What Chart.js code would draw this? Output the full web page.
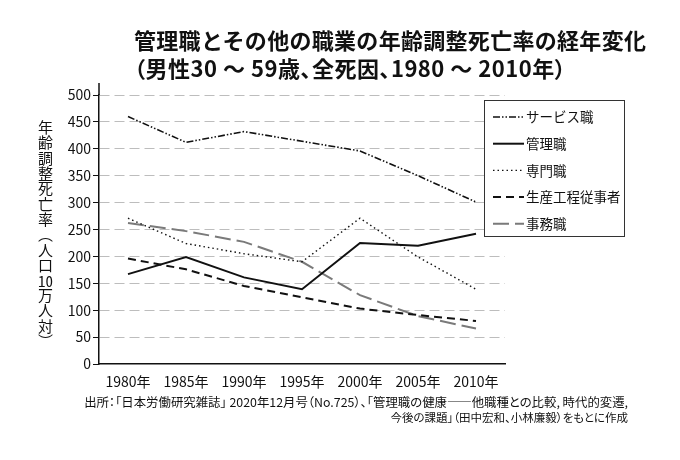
<!DOCTYPE html>
<html lang="ja">
<head>
<meta charset="utf-8">
<script src="https://cdn.jsdelivr.net/npm/chart.js@4.4.0/dist/chart.umd.min.js"></script>
<style>
  html, body { margin: 0; padding: 0; background: #fff; }
  #wrap { position: relative; width: 680px; height: 460px; font-family: "Noto Sans CJK JP", sans-serif; color: #111; }
  #chart { position: absolute; left: 0; top: 0; }
  #title { position: absolute; left: 134px; top: 25px; font-size: 22px; font-weight: 700; line-height: 28px; white-space: nowrap; letter-spacing: 0.3px; }
  #title .l2 { font-feature-settings: "palt"; letter-spacing: 0.5px; }
  #ylabel { position: absolute; left: 37px; top: 120px; writing-mode: vertical-rl; font-size: 15px; line-height: 16px; letter-spacing: 0.3px; }
  #ylabel .tcy { text-combine-upright: all; }
  #source { position: absolute; right: 52px; top: 395px; font-size: 11.5px; line-height: 15px; text-align: right; white-space: nowrap; font-feature-settings: "palt"; }
  #source .l1 { font-size: 12.4px; }
</style>
</head>
<body>
<div id="wrap">
  <canvas id="chart" width="680" height="460"></canvas>
  <div id="title">管理職とその他の職業の年齢調整死亡率の経年変化<br><span class="l2">（男性30 ～ 59歳、全死因、1980 ～ 2010年）</span></div>
  <div id="ylabel">年齢調整死亡率（人口<span class="tcy">10</span>万人対）</div>
  <div id="source"><span class="l1">出所：「日本労働研究雑誌」 2020年12月号（No.725）、「管理職の健康――他職種との比較, 時代的変遷,</span><br>今後の課題」（田中宏和、小林廉毅）をもとに作成</div>
</div>
<script>
// データ
const years = ['1980年', '1985年', '1990年', '1995年', '2000年', '2005年', '2010年'];
const serviceValues = [460, 412, 432, 414, 396, 350, 301];      // サービス職
const managerValues = [167, 199, 161, 139, 225, 220, 242];      // 管理職
const professionalValues = [271, 224, 205, 190, 271, 199, 139]; // 専門職
const productionValues = [196, 176, 145, 124, 103, 91, 80];     // 生産工程従事者
const clericalValues = [262, 247, 227, 190, 128, 89, 66];       // 事務職
const yMin = 0, yMax = 500, yStep = 50;

const fontFamily = '"Noto Sans CJK JP", sans-serif';

// 凡例（枠付き、グラフ右上）
const boxLegend = {
  id: 'boxLegend',
  afterDraw(chart) {
    const ctx = chart.ctx;
    const x = 484, y = 100, w = 140, h = 136;
    ctx.save();
    ctx.fillStyle = '#fff';
    ctx.fillRect(x, y, w, h);
    ctx.strokeStyle = '#333';
    ctx.lineWidth = 1;
    ctx.strokeRect(x + 0.5, y + 0.5, w, h);
    chart.data.datasets.forEach(function (ds, i) {
      const ly = y + 17 + i * 26.7;
      ctx.beginPath();
      ctx.setLineDash(ds.borderDash || []);
      ctx.strokeStyle = ds.borderColor;
      ctx.lineWidth = ds.borderWidth;
      ctx.moveTo(x + 9, ly);
      ctx.lineTo(x + 40, ly);
      ctx.stroke();
      ctx.setLineDash([]);
      ctx.fillStyle = '#111';
      ctx.font = '13.5px ' + fontFamily;
      ctx.textBaseline = 'middle';
      ctx.fillText(ds.label, x + 42, ly);
    });
    // y軸の上端の延長
    const a = chart.chartArea;
    ctx.beginPath();
    ctx.strokeStyle = '#111';
    ctx.lineWidth = 1.5;
    ctx.moveTo(a.left, a.top - 12);
    ctx.lineTo(a.left, a.top);
    ctx.stroke();
    ctx.restore();
  }
};

var ctx = document.getElementById('chart').getContext('2d');
var chart = new Chart(ctx, {
  type: 'line',
  data: {
    labels: years,
    datasets: [
      { label: 'サービス職', data: serviceValues, borderColor: '#111', borderWidth: 1.6, borderDash: [7, 2, 1.5, 2, 1.5, 2] },
      { label: '管理職', data: managerValues, borderColor: '#111', borderWidth: 2 },
      { label: '専門職', data: professionalValues, borderColor: '#111', borderWidth: 1.4, borderDash: [1.5, 3] },
      { label: '生産工程従事者', data: productionValues, borderColor: '#111', borderWidth: 2, borderDash: [8, 5] },
      { label: '事務職', data: clericalValues, borderColor: '#7a7a7a', borderWidth: 2, borderDash: [16, 6] }
    ]
  },
  options: {
    responsive: false,
    animation: false,
    layout: { padding: { left: 0, top: 95, right: 175, bottom: 66 } },
    elements: {
      point: { radius: 0 },
      line: { tension: 0, fill: false }
    },
    scales: {
      x: {
        offset: true,
        grid: { display: false },
        border: { display: true, color: '#111', width: 1.5 },
        ticks: { color: '#111', font: { family: fontFamily, size: 14 }, padding: 1, maxRotation: 0 },
        afterFit: function (scale) { scale.height = 30; }
      },
      y: {
        min: yMin,
        max: yMax,
        grid: {
          color: function (c) { return c.tick && c.tick.value === 0 ? 'rgba(0,0,0,0)' : '#bdbdbd'; },
          lineWidth: 1,
          tickColor: '#111',
          tickLength: 6,
          tickWidth: 1
        },
        border: { display: true, color: '#111', width: 1.5, dash: [10, 5] },
        ticks: { stepSize: yStep, color: '#111', font: { family: fontFamily, size: 14 }, padding: 2 },
        afterFit: function (scale) { scale.width = 99; }
      }
    },
    plugins: {
      legend: { display: false },
      title: { display: false },
      tooltip: { enabled: false }
    }
  },
  plugins: [boxLegend]
});
</script>
</body>
</html>
